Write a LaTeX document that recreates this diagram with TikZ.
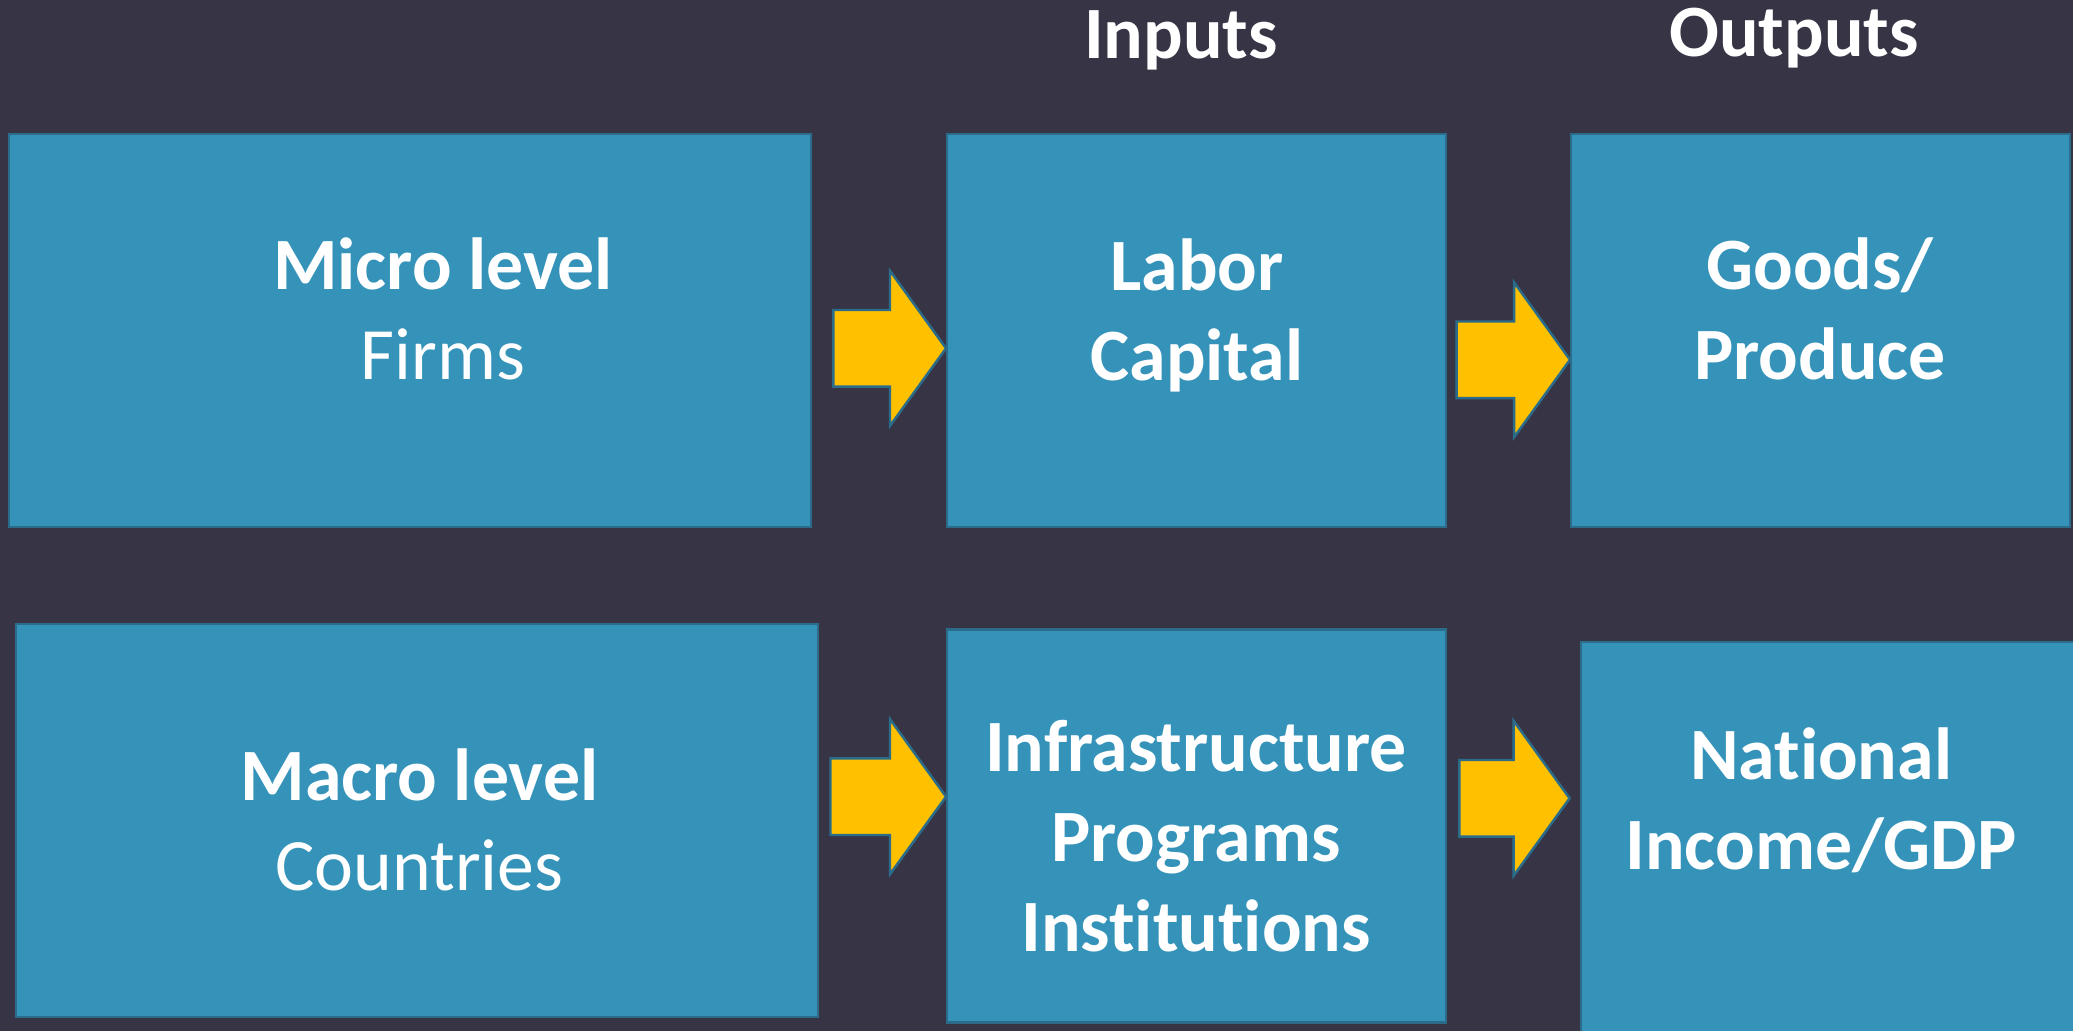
\documentclass[tikz,border=0pt]{standalone}
\usepackage{fontspec}
\setmainfont{Carlito}[Ligatures=NoCommon]
\usetikzlibrary{calc}

\definecolor{bgdark}{RGB}{55,52,70}
\definecolor{boxblue}{RGB}{53,147,186}
\definecolor{boxedge}{RGB}{43,108,138}
\definecolor{arrowgold}{RGB}{255,192,0}

\tikzset{
  blk/.style={draw=boxedge, line width=0.7pt, fill=boxblue, anchor=north west, inner sep=0pt},
  txt/.style={text=white, align=center, anchor=north, inner sep=0pt, font=\fontsize{21}{25.6}\selectfont\bfseries},
  arrowbox/.style={draw=boxedge, line width=0.7pt, fill=arrowgold, line join=miter}
}

% block arrow from the tail point to the tip point
\newcommand{\blockarrow}[2]{%
  \draw[arrowbox] let \p1=(#1), \p2=(#2) in
    (\x1,\y2+0.383cm) -- (\x2-0.56cm,\y2+0.383cm) -- (\x2-0.56cm,\y2+0.775cm) -- (\x2,\y2)
    -- (\x2-0.56cm,\y2-0.775cm) -- (\x2-0.56cm,\y2-0.383cm) -- (\x1,\y2-0.383cm) -- cycle;}

\begin{document}
\begin{tikzpicture}
    \useasboundingbox (0,0) rectangle (20.73,-10.31);
    \clip (0,0) rectangle (20.73,-10.31);
    \fill[bgdark] (0,0) rectangle (20.73,-10.31);

    % column heads
    \node[txt] (inputs) at (11.81,-0.10) {Inputs};
    \node[txt] (outputs) at (17.94,-0.07) {Outputs};

    % micro row
    \node[blk, minimum width=8.02cm, minimum height=3.93cm] (micro) at (0.08,-1.326) {};
    \node[blk, minimum width=4.99cm, minimum height=3.93cm] (labor) at (9.46,-1.326) {};
    \node[blk, minimum width=4.99cm, minimum height=3.93cm] (goods) at (15.70,-1.326) {};
    \node[txt] (microtxt) at (4.43,-2.366) {Micro level\\\mdseries Firms};
    \node[txt] (labortxt) at (11.97,-2.376) {Labor\\Capital};
    \node[txt] (goodstxt) at (18.20,-2.366) {Goods/\\Produce};

    % macro row
    \node[blk, minimum width=8.02cm, minimum height=3.93cm] (macro) at (0.145,-6.227) {};
    \node[blk, minimum width=4.99cm, minimum height=3.93cm] (infra) at (9.46,-6.283) {};
    \node[blk, minimum width=5.2cm, minimum height=4.0cm] (natl) at (15.796,-6.41) {};
    \node[txt] (macrotxt) at (4.195,-7.483) {Macro level\\\mdseries Countries};
    \node[txt] (infratxt) at (11.96,-7.20) {Infrastructure\\Programs\\Institutions};
    \node[txt] (natltxt) at (18.21,-7.267) {National\\Income/GDP};

    % arrows
    \coordinate (a1) at (8.333,-3.483);
    \coordinate (a2) at (14.566,-3.598);
    \coordinate (a3) at (8.305,-7.967);
    \coordinate (a4) at (14.593,-7.983);
    \blockarrow{a1}{labor.west |- a1}
    \blockarrow{a2}{goods.west |- a2}
    \blockarrow{a3}{infra.west |- a3}
    \blockarrow{a4}{$(natl.west |- a4)+(-0.1,0)$}
\end{tikzpicture}
\end{document}
